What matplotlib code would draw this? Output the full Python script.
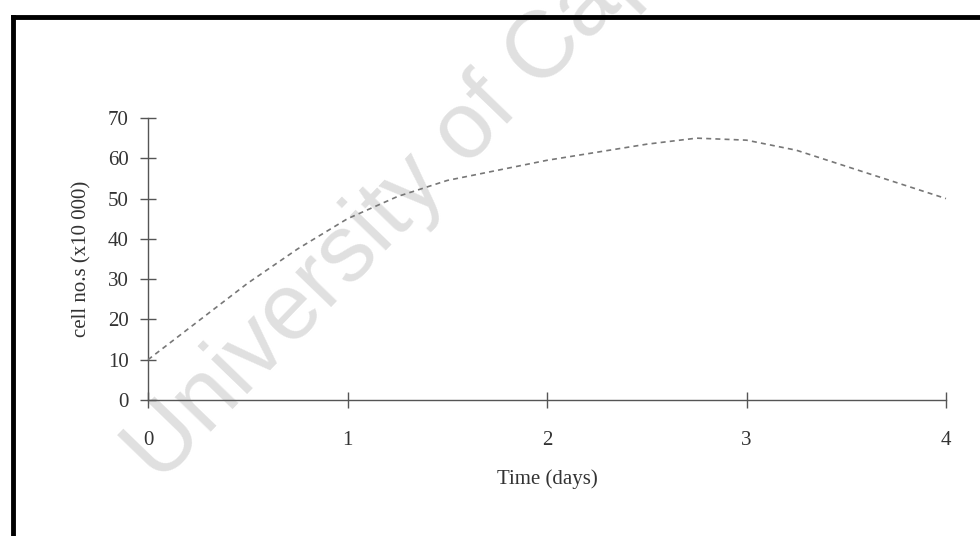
import matplotlib
matplotlib.use("Agg")
import matplotlib.pyplot as plt
from matplotlib.lines import Line2D

# Data
days = [0, 0.25, 0.5, 0.75, 1.0, 1.25, 1.5, 1.75, 2.0, 2.25, 2.5, 2.75, 3.0, 3.25, 3.5, 3.75, 4.0]
cells = [10, 19.5, 29, 37.5, 45, 50.5, 54.5, 57, 59.5, 61.5, 63.5, 65, 64.5, 62, 58, 54, 50]
x_ticks = [0, 1, 2, 3, 4]
y_ticks = [0, 10, 20, 30, 40, 50, 60, 70]
x_label = "Time (days)"
y_label = "cell no.s (x10 000)"
watermark = "University of Cape Town"

W, H = 980, 536
fig = plt.figure(figsize=(W / 100, H / 100), dpi=100)
fig.patch.set_facecolor("white")

serif = ["Liberation Serif", "DejaVu Serif"]

# watermark (behind everything)
fig.text(160 / W, 1 - 485 / H, watermark, fontsize=68, color="#e0e0e0", rotation=46,
         ha="left", va="baseline", rotation_mode="anchor",
         family=["Liberation Sans", "DejaVu Sans"], zorder=-5)

ax = fig.add_axes([148 / W, (H - 400) / H, 798 / W, 282 / H])
ax.set_facecolor("none")
ax.set_zorder(1)
ax.set_xlim(0, 4)
ax.set_ylim(0, 70)

ax.plot(days, cells, color="#777777", lw=1.2, ls=(0, (3, 2.5)), zorder=3, clip_on=False)

for s in ["top", "right"]:
    ax.spines[s].set_visible(False)
ax.spines["left"].set_color("#555555")
ax.spines["bottom"].set_color("#555555")
ax.spines["left"].set_linewidth(1.0)
ax.spines["bottom"].set_linewidth(1.0)

ax.set_xticks(x_ticks)
ax.set_yticks(y_ticks)
ax.tick_params(axis="both", direction="inout", length=12, width=1.0, color="#555555",
               labelsize=15, labelcolor="#333333")
ax.tick_params(axis="y", pad=8)
ax.tick_params(axis="x", pad=16)
for lab in ax.get_xticklabels() + ax.get_yticklabels():
    lab.set_family(serif)

ax.set_xlabel(x_label, fontsize=15, family=serif, color="#333333", labelpad=14)
ax.set_ylabel(y_label, fontsize=15, family=serif, color="#333333", labelpad=12)

# outer frame
fig.add_artist(Line2D([13 / W, 1.0], [1 - 17 / H, 1 - 17 / H], color="black", lw=3.5,
                      transform=fig.transFigure))
fig.add_artist(Line2D([13 / W, 13 / W], [0.0, 1 - 17 / H], color="black", lw=3.5,
                      transform=fig.transFigure))

fig.savefig("out.png", dpi=100, facecolor="white")
